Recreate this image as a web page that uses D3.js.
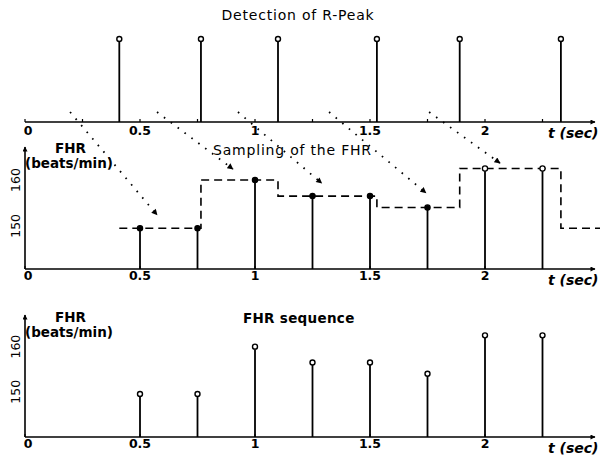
<!DOCTYPE html>
<html>
<head>
<meta charset="utf-8">
<script src="https://cdnjs.cloudflare.com/ajax/libs/d3/7.8.5/d3.min.js"></script>
<style>
  body { margin: 0; background: #fff; }
  svg { font-family: "DejaVu Sans", "Liberation Sans", Arial, sans-serif; }
</style>
</head>
<body>
<svg id="chart" width="601" height="458"></svg>
<script>
// R-peak instants (sec) and the FHR level held after each one
var rPeakTimes = [0.41, 0.765, 1.10, 1.53, 1.89, 2.33];
var fhrLevels = [149.5, 160, 156.5, 154, 162.5, 149.5];

// Regular sampling of the FHR
var sampleTimes = [0.5, 0.75, 1, 1.25, 1.5, 1.75, 2, 2.25];
var fhrSamples = [149.5, 149.5, 160, 156.5, 156.5, 154, 162.5, 162.5];

// Tick labels
var xTicks = [0, 0.5, 1, 1.5, 2];
var yTicks = [150, 160];

// Dotted arrows: start on top axis (t), end in the middle panel (t, bpm)
var arrowStartT = [0.196, 0.574, 0.926, 1.322, 1.757];
var arrowEndT = [0.574, 0.904, 1.29, 1.743, 2.065];
var arrowEndV = [152.4, 162.4, 159.3, 157.2, 163.7];

var svg = d3.select('#chart');

var x = d3.scaleLinear().domain([0, 2]).range([25, 485]);
var tEnd = x.invert(595);

var yTop = d3.scaleLinear().domain([0, 1]).range([122, 39]);
var yMid = d3.scaleLinear().domain([140.6, 167.2]).range([269, 147]);
var yBot = d3.scaleLinear().domain([140, 167]).range([437, 315]);

// arrow head markers
var defs = svg.append('defs');
defs.append('marker')
	.attr('id', 'axArrow')
	.attr('viewBox', '0 0 10 10')
	.attr('refX', 9).attr('refY', 5)
	.attr('markerWidth', 7).attr('markerHeight', 5)
	.attr('markerUnits', 'userSpaceOnUse')
	.attr('orient', 'auto')
	.append('path').attr('d', 'M0,0L10,5L0,10Z').attr('fill', '#000');
defs.append('marker')
	.attr('id', 'dotArrow')
	.attr('viewBox', '0 0 10 10')
	.attr('refX', 9).attr('refY', 5)
	.attr('markerWidth', 7).attr('markerHeight', 6)
	.attr('markerUnits', 'userSpaceOnUse')
	.attr('orient', 'auto')
	.append('path').attr('d', 'M0,0L10,5L0,10Z').attr('fill', '#000');

// Horizontal time axis with arrow and tick labels
function timeAxis(y0, labelBase, tBase, tickStep) {
	svg.append('line')
		.attr('x1', x(0)).attr('x2', x(tEnd))
		.attr('y1', y0).attr('y2', y0)
		.attr('stroke', '#000').attr('stroke-width', 1.6)
		.attr('marker-end', 'url(#axArrow)');

	svg.append('g').selectAll('line')
		.data(d3.range(0, 2.3, tickStep))
		.enter().append('line')
		.attr('x1', function(d) { return x(d); })
		.attr('x2', function(d) { return x(d); })
		.attr('y1', y0).attr('y2', y0 - 3)
		.attr('stroke', '#000').attr('stroke-width', 1.2);

	svg.append('g').selectAll('text')
		.data(xTicks)
		.enter().append('text')
		.attr('x', function(d) { return x(d) + (d == 0 ? 3 : 0); })
		.attr('y', labelBase)
		.attr('text-anchor', 'middle')
		.attr('font-size', 12.5)
		.attr('font-weight', 'bold')
		.text(function(d) { return d; });

	svg.append('text')
		.attr('x', 548).attr('y', tBase)
		.attr('font-size', 14)
		.attr('font-weight', 'bold')
		.attr('font-style', 'italic')
		.text('t (sec)');
}

// Vertical FHR axis with arrow, rotated tick labels and unit label
function fhrAxis(yScale, fhrBase) {
	svg.append('line')
		.attr('x1', x(0)).attr('x2', x(0))
		.attr('y1', yScale.range()[0]).attr('y2', yScale.range()[1])
		.attr('stroke', '#000').attr('stroke-width', 1.6)
		.attr('marker-end', 'url(#axArrow)');

	svg.append('g').selectAll('text')
		.data(yTicks)
		.enter().append('text')
		.attr('transform', function(d) { return 'translate(20,' + yScale(d) + ') rotate(-90)'; })
		.attr('text-anchor', 'middle')
		.attr('font-size', 12.5)
		.text(function(d) { return d; });

	svg.append('text')
		.attr('x', 55).attr('y', fhrBase)
		.attr('font-size', 13.5).attr('font-weight', 'bold')
		.text('FHR');
	svg.append('text')
		.attr('x', 25).attr('y', fhrBase + 15)
		.attr('font-size', 13.5).attr('font-weight', 'bold')
		.text('(beats/min)');
}

// ---------- Top panel: detection of R-Peak ----------
svg.append('text')
	.attr('x', 298).attr('y', 20)
	.attr('text-anchor', 'middle')
	.attr('font-size', 14)
	.attr('letter-spacing', 0.8)
	.text('Detection of R-Peak');

timeAxis(yTop(0), 135, 138, 0.25);

svg.append('g').selectAll('line')
	.data(rPeakTimes)
	.enter().append('line')
	.attr('x1', function(d) { return x(d); })
	.attr('x2', function(d) { return x(d); })
	.attr('y1', yTop(0)).attr('y2', yTop(1) + 2.5)
	.attr('stroke', '#000').attr('stroke-width', 1.8);

svg.append('g').selectAll('circle')
	.data(rPeakTimes)
	.enter().append('circle')
	.attr('cx', function(d) { return x(d); })
	.attr('cy', yTop(1))
	.attr('r', 2.5)
	.attr('fill', '#fff').attr('stroke', '#000').attr('stroke-width', 1.4);

// ---------- Middle panel: sampling of the FHR ----------
svg.append('text')
	.attr('x', 213).attr('y', 155)
	.attr('font-size', 14)
	.attr('letter-spacing', 0.8)
	.text('Sampling of the FHR');

timeAxis(yMid.range()[0], 280, 285, 0.5);
fhrAxis(yMid, 153);

// held FHR as a dashed step line
var stepData = rPeakTimes.map(function(t, i) { return {t: t, v: fhrLevels[i]}; });
stepData.push({t: x.invert(600), v: fhrLevels[fhrLevels.length - 1]});
var stepLine = d3.line()
	.x(function(d) { return x(d.t); })
	.y(function(d) { return yMid(d.v); })
	.curve(d3.curveStepAfter);
svg.append('path')
	.datum(stepData)
	.attr('d', stepLine)
	.attr('fill', 'none')
	.attr('stroke', '#000')
	.attr('stroke-width', 1.6)
	.attr('stroke-dasharray', '8,5');

svg.append('g').selectAll('line')
	.data(sampleTimes)
	.enter().append('line')
	.attr('x1', function(d) { return x(d); })
	.attr('x2', function(d) { return x(d); })
	.attr('y1', yMid.range()[0])
	.attr('y2', function(d, i) { return yMid(fhrSamples[i]); })
	.attr('stroke', '#000').attr('stroke-width', 1.8);

svg.append('g').selectAll('circle')
	.data(sampleTimes)
	.enter().append('circle')
	.attr('cx', function(d) { return x(d); })
	.attr('cy', function(d, i) { return yMid(fhrSamples[i]); })
	.attr('r', 2.6)
	.attr('fill', function(d, i) { return i < 6 ? '#000' : '#fff'; })
	.attr('stroke', '#000').attr('stroke-width', 1.3);

// dotted arrows from R-peaks to the held values
svg.append('g').selectAll('line')
	.data(arrowStartT)
	.enter().append('line')
	.attr('x1', function(d) { return x(d); })
	.attr('y1', yTop(0.12))
	.attr('x2', function(d, i) { return x(arrowEndT[i]); })
	.attr('y2', function(d, i) { return yMid(arrowEndV[i]); })
	.attr('stroke', '#000')
	.attr('stroke-width', 1.8)
	.attr('stroke-dasharray', '1.6,7')
	.attr('marker-end', 'url(#dotArrow)');

// ---------- Bottom panel: FHR sequence ----------
svg.append('text')
	.attr('x', 243).attr('y', 323)
	.attr('font-size', 13.5)
	.attr('font-weight', 'bold')
	.attr('letter-spacing', 0.3)
	.text('FHR sequence');

timeAxis(yBot.range()[0], 448, 453, 0.5);
fhrAxis(yBot, 322);

svg.append('g').selectAll('line')
	.data(sampleTimes)
	.enter().append('line')
	.attr('x1', function(d) { return x(d); })
	.attr('x2', function(d) { return x(d); })
	.attr('y1', yBot.range()[0])
	.attr('y2', function(d, i) { return yBot(fhrSamples[i]) + 2.5; })
	.attr('stroke', '#000').attr('stroke-width', 1.8);

svg.append('g').selectAll('circle')
	.data(sampleTimes)
	.enter().append('circle')
	.attr('cx', function(d) { return x(d); })
	.attr('cy', function(d, i) { return yBot(fhrSamples[i]); })
	.attr('r', 2.5)
	.attr('fill', '#fff').attr('stroke', '#000').attr('stroke-width', 1.4);
</script>
</body>
</html>
